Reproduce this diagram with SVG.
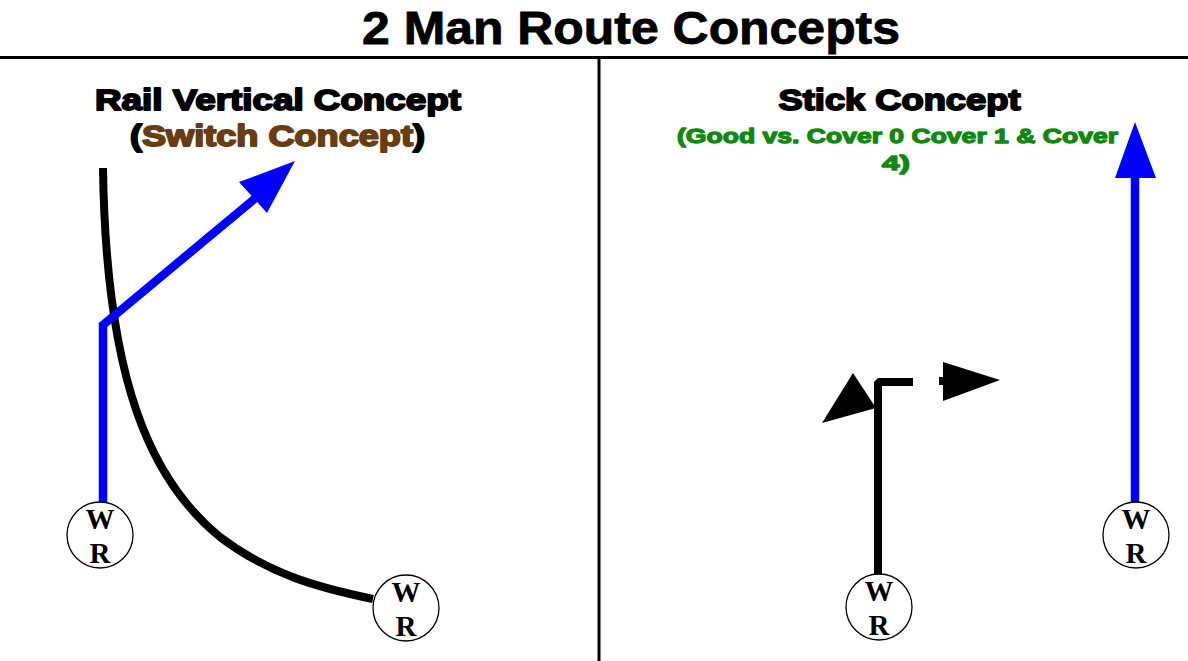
<svg xmlns="http://www.w3.org/2000/svg" width="1188" height="661" viewBox="0 0 1188 661">
<style>
.title{font-family:"Liberation Sans",Arial,sans-serif;font-weight:bold;text-anchor:middle}
.hvy{font-family:"Liberation Sans",Arial,sans-serif;font-weight:bold;text-anchor:middle;stroke-linejoin:round}
.wr circle{fill:#fff;stroke:#000;stroke-width:1.3}
.wr text{font-family:"Liberation Serif","Times New Roman",serif;font-weight:bold;font-size:29px;text-anchor:middle;fill:#000}
.blk{fill:none;stroke:#000;stroke-width:8}
.blu{fill:none;stroke:#0000ff;stroke-width:8.5}
</style>
<rect width="1188" height="661" fill="#fff"/>
<g id="frame">
<line x1="0" y1="57.5" x2="1188" y2="57.5" stroke="#000" stroke-width="3"/>
<line x1="599" y1="58" x2="599" y2="661" stroke="#000" stroke-width="3"/>
</g>
<g id="title"><text class="title" x="631" y="44" font-size="46" textLength="538" lengthAdjust="spacingAndGlyphs" fill="#000" stroke="#000" stroke-width="0.8">2 Man Route Concepts</text></g>
<g id="left-heading">
<text class="hvy" x="278" y="110" font-size="29" textLength="366" lengthAdjust="spacingAndGlyphs" fill="#000" stroke="#000" stroke-width="1.8">Rail Vertical Concept</text>
<text class="hvy" x="277.5" y="146" font-size="29" textLength="295" lengthAdjust="spacingAndGlyphs" fill="#000" stroke="#000" stroke-width="1.8">(<tspan fill="#6a3d10" stroke="#6a3d10">Switch Concept</tspan>)</text>
</g>
<g id="right-heading">
<text class="hvy" x="899.5" y="110" font-size="29" textLength="242" lengthAdjust="spacingAndGlyphs" fill="#000" stroke="#000" stroke-width="1.8">Stick Concept</text>
<text class="hvy" x="897.5" y="143" font-size="21" textLength="441" lengthAdjust="spacingAndGlyphs" fill="#118811" stroke="#118811" stroke-width="1.3">(Good vs. Cover 0 Cover 1 &amp; Cover</text>
<text class="hvy" x="896" y="170" font-size="21" textLength="28" lengthAdjust="spacingAndGlyphs" fill="#118811" stroke="#118811" stroke-width="1.3">4)</text>
</g>
<g id="connectors">
<path class="blk" d="M103,168 C106,380 150,480 220,537 C270,575 320,588 373,599"/>
<path class="blu" d="M103,503 L103,325 L258,196" stroke-linejoin="miter"/>
<polygon points="295,161 239,182 267,213" fill="#0000ff"/>
<path class="blk" d="M878,575 L878,382 L913,382" stroke-linejoin="bevel"/>
<polygon points="822,423 853,373 876,408" fill="#000"/>
<rect x="939" y="377" width="6" height="8" fill="#000"/>
<polygon points="943,362 943,401 1000,380" fill="#000"/>
<line class="blu" x1="1135" y1="503" x2="1135" y2="176"/>
<polygon points="1135,122 1115,178 1156,178" fill="#0000ff"/>
</g>
<g id="wr1" class="wr"><circle cx="100" cy="535" r="33"/><text x="100" y="529">W</text><text x="100" y="563">R</text></g>
<g id="wr2" class="wr"><circle cx="406" cy="608" r="33"/><text x="406" y="602">W</text><text x="406" y="636">R</text></g>
<g id="wr3" class="wr"><circle cx="879" cy="607" r="33"/><text x="879" y="601">W</text><text x="879" y="635">R</text></g>
<g id="wr4" class="wr"><circle cx="1136" cy="535" r="33"/><text x="1136" y="529">W</text><text x="1136" y="563">R</text></g>
</svg>
